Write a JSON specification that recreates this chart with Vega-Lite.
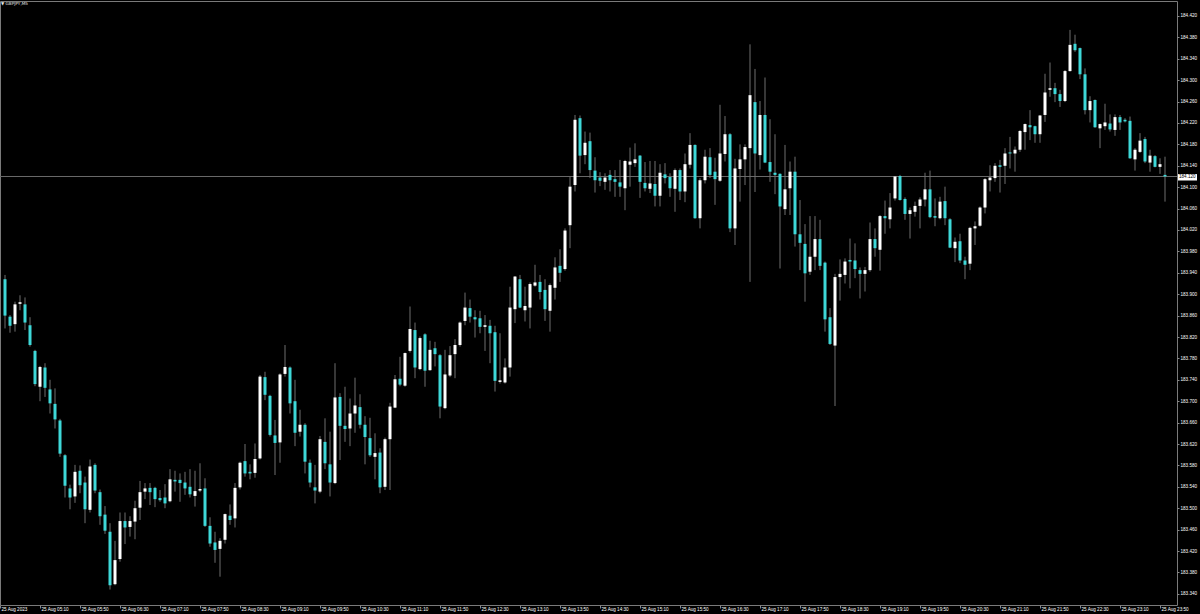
{
  "$schema": "https://vega.github.io/schema/vega-lite/v6.json",
  "width": 1177,
  "height": 604,
  "autosize": {"type": "none"},
  "padding": {"left": 0, "top": 1, "right": 23, "bottom": 9},
  "background": "#000000",
  "config": {
    "view": {"stroke": "#7a7a7a", "strokeWidth": 1},
    "font": "Liberation Sans"
  },
  "data": {
    "format": {"parse": {"t": "date:'%Y-%m-%d %H:%M'"}},
    "values": [
{"t":"2023-08-25 04:35","o":183.928,"h":183.936,"l":183.836,"c":183.860},
{"t":"2023-08-25 04:40","o":183.858,"h":183.861,"l":183.828,"c":183.841},
{"t":"2023-08-25 04:45","o":183.844,"h":183.886,"l":183.830,"c":183.881},
{"t":"2023-08-25 04:50","o":183.882,"h":183.898,"l":183.870,"c":183.885},
{"t":"2023-08-25 04:55","o":183.881,"h":183.894,"l":183.833,"c":183.847},
{"t":"2023-08-25 05:00","o":183.842,"h":183.857,"l":183.802,"c":183.805},
{"t":"2023-08-25 05:05","o":183.794,"h":183.796,"l":183.728,"c":183.732},
{"t":"2023-08-25 05:10","o":183.727,"h":183.766,"l":183.700,"c":183.764},
{"t":"2023-08-25 05:15","o":183.763,"h":183.771,"l":183.708,"c":183.725},
{"t":"2023-08-25 05:20","o":183.722,"h":183.740,"l":183.677,"c":183.696},
{"t":"2023-08-25 05:25","o":183.695,"h":183.724,"l":183.649,"c":183.666},
{"t":"2023-08-25 05:30","o":183.664,"h":183.667,"l":183.596,"c":183.602},
{"t":"2023-08-25 05:35","o":183.599,"h":183.601,"l":183.520,"c":183.542},
{"t":"2023-08-25 05:40","o":183.537,"h":183.544,"l":183.498,"c":183.520},
{"t":"2023-08-25 05:45","o":183.522,"h":183.581,"l":183.510,"c":183.568},
{"t":"2023-08-25 05:50","o":183.570,"h":183.580,"l":183.528,"c":183.543},
{"t":"2023-08-25 05:55","o":183.548,"h":183.559,"l":183.472,"c":183.498},
{"t":"2023-08-25 06:00","o":183.497,"h":183.591,"l":183.492,"c":183.578},
{"t":"2023-08-25 06:05","o":183.581,"h":183.584,"l":183.528,"c":183.533},
{"t":"2023-08-25 06:10","o":183.530,"h":183.535,"l":183.469,"c":183.485},
{"t":"2023-08-25 06:15","o":183.488,"h":183.504,"l":183.452,"c":183.458},
{"t":"2023-08-25 06:20","o":183.456,"h":183.472,"l":183.348,"c":183.356},
{"t":"2023-08-25 06:25","o":183.358,"h":183.439,"l":183.356,"c":183.403},
{"t":"2023-08-25 06:30","o":183.405,"h":183.492,"l":183.400,"c":183.476},
{"t":"2023-08-25 06:35","o":183.476,"h":183.492,"l":183.433,"c":183.464},
{"t":"2023-08-25 06:40","o":183.465,"h":183.485,"l":183.447,"c":183.476},
{"t":"2023-08-25 06:45","o":183.475,"h":183.514,"l":183.442,"c":183.500},
{"t":"2023-08-25 06:50","o":183.501,"h":183.551,"l":183.478,"c":183.530},
{"t":"2023-08-25 06:55","o":183.531,"h":183.547,"l":183.517,"c":183.537},
{"t":"2023-08-25 07:00","o":183.538,"h":183.547,"l":183.506,"c":183.530},
{"t":"2023-08-25 07:05","o":183.538,"h":183.540,"l":183.502,"c":183.517},
{"t":"2023-08-25 07:10","o":183.519,"h":183.534,"l":183.512,"c":183.515},
{"t":"2023-08-25 07:15","o":183.520,"h":183.545,"l":183.500,"c":183.509},
{"t":"2023-08-25 07:20","o":183.513,"h":183.573,"l":183.511,"c":183.554},
{"t":"2023-08-25 07:25","o":183.553,"h":183.570,"l":183.531,"c":183.550},
{"t":"2023-08-25 07:30","o":183.553,"h":183.565,"l":183.512,"c":183.547},
{"t":"2023-08-25 07:35","o":183.548,"h":183.568,"l":183.525,"c":183.537},
{"t":"2023-08-25 07:40","o":183.540,"h":183.573,"l":183.520,"c":183.526},
{"t":"2023-08-25 07:45","o":183.523,"h":183.570,"l":183.503,"c":183.532},
{"t":"2023-08-25 07:50","o":183.533,"h":183.584,"l":183.530,"c":183.536},
{"t":"2023-08-25 07:55","o":183.537,"h":183.556,"l":183.465,"c":183.467},
{"t":"2023-08-25 08:00","o":183.467,"h":183.483,"l":183.428,"c":183.434},
{"t":"2023-08-25 08:05","o":183.436,"h":183.456,"l":183.398,"c":183.422},
{"t":"2023-08-25 08:10","o":183.424,"h":183.444,"l":183.372,"c":183.439},
{"t":"2023-08-25 08:15","o":183.441,"h":183.490,"l":183.434,"c":183.489},
{"t":"2023-08-25 08:20","o":183.486,"h":183.507,"l":183.469,"c":183.478},
{"t":"2023-08-25 08:25","o":183.481,"h":183.547,"l":183.464,"c":183.538},
{"t":"2023-08-25 08:30","o":183.539,"h":183.587,"l":183.535,"c":183.585},
{"t":"2023-08-25 08:35","o":183.588,"h":183.620,"l":183.559,"c":183.565},
{"t":"2023-08-25 08:40","o":183.568,"h":183.582,"l":183.554,"c":183.565},
{"t":"2023-08-25 08:45","o":183.566,"h":183.621,"l":183.557,"c":183.592},
{"t":"2023-08-25 08:50","o":183.593,"h":183.749,"l":183.591,"c":183.746},
{"t":"2023-08-25 08:55","o":183.745,"h":183.755,"l":183.702,"c":183.712},
{"t":"2023-08-25 09:00","o":183.710,"h":183.712,"l":183.634,"c":183.637},
{"t":"2023-08-25 09:05","o":183.636,"h":183.665,"l":183.562,"c":183.622},
{"t":"2023-08-25 09:10","o":183.623,"h":183.752,"l":183.585,"c":183.750},
{"t":"2023-08-25 09:15","o":183.751,"h":183.805,"l":183.746,"c":183.764},
{"t":"2023-08-25 09:20","o":183.763,"h":183.765,"l":183.677,"c":183.696},
{"t":"2023-08-25 09:25","o":183.700,"h":183.740,"l":183.616,"c":183.641},
{"t":"2023-08-25 09:30","o":183.643,"h":183.684,"l":183.634,"c":183.656},
{"t":"2023-08-25 09:35","o":183.656,"h":183.659,"l":183.565,"c":183.587},
{"t":"2023-08-25 09:40","o":183.585,"h":183.591,"l":183.539,"c":183.548},
{"t":"2023-08-25 09:45","o":183.539,"h":183.581,"l":183.509,"c":183.533},
{"t":"2023-08-25 09:50","o":183.531,"h":183.635,"l":183.528,"c":183.629},
{"t":"2023-08-25 09:55","o":183.624,"h":183.668,"l":183.573,"c":183.584},
{"t":"2023-08-25 10:00","o":183.582,"h":183.643,"l":183.522,"c":183.548},
{"t":"2023-08-25 10:05","o":183.547,"h":183.771,"l":183.545,"c":183.707},
{"t":"2023-08-25 10:10","o":183.708,"h":183.715,"l":183.590,"c":183.654},
{"t":"2023-08-25 10:15","o":183.654,"h":183.727,"l":183.624,"c":183.648},
{"t":"2023-08-25 10:20","o":183.649,"h":183.705,"l":183.616,"c":183.677},
{"t":"2023-08-25 10:25","o":183.677,"h":183.744,"l":183.641,"c":183.692},
{"t":"2023-08-25 10:30","o":183.689,"h":183.713,"l":183.649,"c":183.656},
{"t":"2023-08-25 10:35","o":183.656,"h":183.672,"l":183.582,"c":183.633},
{"t":"2023-08-25 10:40","o":183.631,"h":183.669,"l":183.596,"c":183.599},
{"t":"2023-08-25 10:45","o":183.596,"h":183.640,"l":183.554,"c":183.603},
{"t":"2023-08-25 10:50","o":183.604,"h":183.612,"l":183.528,"c":183.539},
{"t":"2023-08-25 10:55","o":183.540,"h":183.632,"l":183.534,"c":183.629},
{"t":"2023-08-25 11:00","o":183.629,"h":183.697,"l":183.534,"c":183.690},
{"t":"2023-08-25 11:05","o":183.688,"h":183.749,"l":183.687,"c":183.741},
{"t":"2023-08-25 11:10","o":183.742,"h":183.783,"l":183.728,"c":183.731},
{"t":"2023-08-25 11:15","o":183.729,"h":183.791,"l":183.727,"c":183.790},
{"t":"2023-08-25 11:20","o":183.794,"h":183.877,"l":183.791,"c":183.835},
{"t":"2023-08-25 11:25","o":183.833,"h":183.847,"l":183.743,"c":183.763},
{"t":"2023-08-25 11:30","o":183.760,"h":183.821,"l":183.758,"c":183.818},
{"t":"2023-08-25 11:35","o":183.825,"h":183.827,"l":183.727,"c":183.757},
{"t":"2023-08-25 11:40","o":183.758,"h":183.813,"l":183.757,"c":183.796},
{"t":"2023-08-25 11:45","o":183.799,"h":183.811,"l":183.765,"c":183.788},
{"t":"2023-08-25 11:50","o":183.786,"h":183.788,"l":183.668,"c":183.690},
{"t":"2023-08-25 11:55","o":183.687,"h":183.796,"l":183.685,"c":183.750},
{"t":"2023-08-25 12:00","o":183.748,"h":183.803,"l":183.745,"c":183.786},
{"t":"2023-08-25 12:05","o":183.788,"h":183.816,"l":183.743,"c":183.805},
{"t":"2023-08-25 12:10","o":183.805,"h":183.849,"l":183.802,"c":183.847},
{"t":"2023-08-25 12:15","o":183.850,"h":183.903,"l":183.842,"c":183.875},
{"t":"2023-08-25 12:20","o":183.874,"h":183.890,"l":183.847,"c":183.858},
{"t":"2023-08-25 12:25","o":183.857,"h":183.870,"l":183.819,"c":183.853},
{"t":"2023-08-25 12:30","o":183.855,"h":183.869,"l":183.827,"c":183.839},
{"t":"2023-08-25 12:35","o":183.839,"h":183.861,"l":183.794,"c":183.842},
{"t":"2023-08-25 12:40","o":183.841,"h":183.852,"l":183.771,"c":183.827},
{"t":"2023-08-25 12:45","o":183.829,"h":183.841,"l":183.718,"c":183.738},
{"t":"2023-08-25 12:50","o":183.736,"h":183.827,"l":183.733,"c":183.739},
{"t":"2023-08-25 12:55","o":183.735,"h":183.780,"l":183.733,"c":183.763},
{"t":"2023-08-25 13:00","o":183.763,"h":183.914,"l":183.746,"c":183.875},
{"t":"2023-08-25 13:05","o":183.872,"h":183.934,"l":183.846,"c":183.933},
{"t":"2023-08-25 13:10","o":183.928,"h":183.936,"l":183.874,"c":183.875},
{"t":"2023-08-25 13:15","o":183.870,"h":183.914,"l":183.849,"c":183.878},
{"t":"2023-08-25 13:20","o":183.875,"h":183.922,"l":183.836,"c":183.919},
{"t":"2023-08-25 13:25","o":183.916,"h":183.955,"l":183.914,"c":183.922},
{"t":"2023-08-25 13:30","o":183.923,"h":183.936,"l":183.890,"c":183.904},
{"t":"2023-08-25 13:35","o":183.908,"h":183.928,"l":183.850,"c":183.872},
{"t":"2023-08-25 13:40","o":183.869,"h":183.920,"l":183.830,"c":183.917},
{"t":"2023-08-25 13:45","o":183.912,"h":183.969,"l":183.890,"c":183.950},
{"t":"2023-08-25 13:50","o":183.953,"h":183.984,"l":183.923,"c":183.940},
{"t":"2023-08-25 13:55","o":183.947,"h":184.023,"l":183.944,"c":184.019},
{"t":"2023-08-25 14:00","o":184.029,"h":184.119,"l":183.986,"c":184.101},
{"t":"2023-08-25 14:05","o":184.104,"h":184.235,"l":184.092,"c":184.226},
{"t":"2023-08-25 14:10","o":184.229,"h":184.234,"l":184.126,"c":184.159},
{"t":"2023-08-25 14:15","o":184.160,"h":184.204,"l":184.143,"c":184.183},
{"t":"2023-08-25 14:20","o":184.186,"h":184.202,"l":184.117,"c":184.132},
{"t":"2023-08-25 14:25","o":184.131,"h":184.156,"l":184.090,"c":184.113},
{"t":"2023-08-25 14:30","o":184.118,"h":184.128,"l":184.102,"c":184.112},
{"t":"2023-08-25 14:35","o":184.110,"h":184.126,"l":184.095,"c":184.118},
{"t":"2023-08-25 14:40","o":184.123,"h":184.132,"l":184.092,"c":184.113},
{"t":"2023-08-25 14:45","o":184.115,"h":184.132,"l":184.082,"c":184.110},
{"t":"2023-08-25 14:50","o":184.109,"h":184.151,"l":184.082,"c":184.101},
{"t":"2023-08-25 14:55","o":184.098,"h":184.151,"l":184.057,"c":184.149},
{"t":"2023-08-25 15:00","o":184.142,"h":184.174,"l":184.101,"c":184.148},
{"t":"2023-08-25 15:05","o":184.145,"h":184.182,"l":184.138,"c":184.152},
{"t":"2023-08-25 15:10","o":184.159,"h":184.160,"l":184.080,"c":184.110},
{"t":"2023-08-25 15:15","o":184.108,"h":184.147,"l":184.092,"c":184.098},
{"t":"2023-08-25 15:20","o":184.097,"h":184.149,"l":184.089,"c":184.107},
{"t":"2023-08-25 15:25","o":184.106,"h":184.149,"l":184.064,"c":184.084},
{"t":"2023-08-25 15:30","o":184.084,"h":184.143,"l":184.064,"c":184.127},
{"t":"2023-08-25 15:35","o":184.124,"h":184.145,"l":184.107,"c":184.117},
{"t":"2023-08-25 15:40","o":184.119,"h":184.126,"l":184.082,"c":184.098},
{"t":"2023-08-25 15:45","o":184.097,"h":184.135,"l":184.054,"c":184.132},
{"t":"2023-08-25 15:50","o":184.132,"h":184.135,"l":184.076,"c":184.092},
{"t":"2023-08-25 15:55","o":184.092,"h":184.163,"l":184.072,"c":184.143},
{"t":"2023-08-25 16:00","o":184.142,"h":184.201,"l":184.135,"c":184.179},
{"t":"2023-08-25 16:05","o":184.179,"h":184.180,"l":184.041,"c":184.042},
{"t":"2023-08-25 16:10","o":184.042,"h":184.117,"l":184.023,"c":184.113},
{"t":"2023-08-25 16:15","o":184.113,"h":184.170,"l":184.107,"c":184.157},
{"t":"2023-08-25 16:20","o":184.156,"h":184.173,"l":184.117,"c":184.123},
{"t":"2023-08-25 16:25","o":184.129,"h":184.155,"l":184.067,"c":184.115},
{"t":"2023-08-25 16:30","o":184.112,"h":184.254,"l":184.110,"c":184.163},
{"t":"2023-08-25 16:35","o":184.162,"h":184.233,"l":184.148,"c":184.199},
{"t":"2023-08-25 16:40","o":184.199,"h":184.201,"l":184.016,"c":184.023},
{"t":"2023-08-25 16:45","o":184.023,"h":184.153,"l":183.992,"c":184.135},
{"t":"2023-08-25 16:50","o":184.134,"h":184.180,"l":184.073,"c":184.152},
{"t":"2023-08-25 16:55","o":184.152,"h":184.180,"l":184.104,"c":184.175},
{"t":"2023-08-25 17:00","o":184.173,"h":184.367,"l":183.923,"c":184.272},
{"t":"2023-08-25 17:05","o":184.259,"h":184.321,"l":184.091,"c":184.163},
{"t":"2023-08-25 17:10","o":184.160,"h":184.261,"l":184.133,"c":184.235},
{"t":"2023-08-25 17:15","o":184.235,"h":184.305,"l":184.145,"c":184.146},
{"t":"2023-08-25 17:20","o":184.147,"h":184.227,"l":184.110,"c":184.129},
{"t":"2023-08-25 17:25","o":184.127,"h":184.199,"l":184.087,"c":184.123},
{"t":"2023-08-25 17:30","o":184.125,"h":184.126,"l":183.948,"c":184.064},
{"t":"2023-08-25 17:35","o":184.059,"h":184.179,"l":184.048,"c":184.096},
{"t":"2023-08-25 17:40","o":184.098,"h":184.148,"l":184.048,"c":184.129},
{"t":"2023-08-25 17:45","o":184.129,"h":184.157,"l":183.989,"c":184.012},
{"t":"2023-08-25 17:50","o":184.012,"h":184.076,"l":183.945,"c":183.996},
{"t":"2023-08-25 17:55","o":183.994,"h":184.031,"l":183.886,"c":183.939},
{"t":"2023-08-25 18:00","o":183.942,"h":184.046,"l":183.936,"c":183.970},
{"t":"2023-08-25 18:05","o":183.970,"h":184.046,"l":183.945,"c":184.003},
{"t":"2023-08-25 18:10","o":184.003,"h":184.039,"l":183.945,"c":183.953},
{"t":"2023-08-25 18:15","o":183.959,"h":183.961,"l":183.830,"c":183.853},
{"t":"2023-08-25 18:20","o":183.857,"h":183.874,"l":183.805,"c":183.807},
{"t":"2023-08-25 18:25","o":183.804,"h":183.938,"l":183.691,"c":183.932},
{"t":"2023-08-25 18:30","o":183.932,"h":183.965,"l":183.888,"c":183.938},
{"t":"2023-08-25 18:35","o":183.936,"h":183.967,"l":183.920,"c":183.961},
{"t":"2023-08-25 18:40","o":183.964,"h":184.004,"l":183.911,"c":183.961},
{"t":"2023-08-25 18:45","o":183.963,"h":183.995,"l":183.930,"c":183.947},
{"t":"2023-08-25 18:50","o":183.945,"h":183.950,"l":183.892,"c":183.938},
{"t":"2023-08-25 18:55","o":183.938,"h":183.951,"l":183.905,"c":183.945},
{"t":"2023-08-25 19:00","o":183.945,"h":184.034,"l":183.942,"c":184.003},
{"t":"2023-08-25 19:05","o":184.003,"h":184.023,"l":183.970,"c":183.986},
{"t":"2023-08-25 19:10","o":183.983,"h":184.048,"l":183.944,"c":184.046},
{"t":"2023-08-25 19:15","o":184.046,"h":184.075,"l":184.013,"c":184.042},
{"t":"2023-08-25 19:20","o":184.040,"h":184.089,"l":184.023,"c":184.062},
{"t":"2023-08-25 19:25","o":184.079,"h":184.121,"l":184.075,"c":184.120},
{"t":"2023-08-25 19:30","o":184.121,"h":184.123,"l":184.075,"c":184.076},
{"t":"2023-08-25 19:35","o":184.078,"h":184.081,"l":184.039,"c":184.050},
{"t":"2023-08-25 19:40","o":184.050,"h":184.062,"l":184.004,"c":184.057},
{"t":"2023-08-25 19:45","o":184.054,"h":184.073,"l":184.045,"c":184.065},
{"t":"2023-08-25 19:50","o":184.065,"h":184.081,"l":184.023,"c":184.077},
{"t":"2023-08-25 19:55","o":184.077,"h":184.127,"l":184.064,"c":184.096},
{"t":"2023-08-25 20:00","o":184.096,"h":184.131,"l":184.042,"c":184.044},
{"t":"2023-08-25 20:05","o":184.046,"h":184.079,"l":184.027,"c":184.043},
{"t":"2023-08-25 20:10","o":184.042,"h":184.082,"l":184.040,"c":184.073},
{"t":"2023-08-25 20:15","o":184.074,"h":184.101,"l":184.029,"c":184.042},
{"t":"2023-08-25 20:20","o":184.040,"h":184.042,"l":183.986,"c":183.987},
{"t":"2023-08-25 20:25","o":183.986,"h":184.006,"l":183.960,"c":183.998},
{"t":"2023-08-25 20:30","o":183.999,"h":184.013,"l":183.958,"c":183.963},
{"t":"2023-08-25 20:35","o":183.963,"h":183.970,"l":183.928,"c":183.955},
{"t":"2023-08-25 20:40","o":183.957,"h":184.026,"l":183.945,"c":184.024},
{"t":"2023-08-25 20:45","o":184.023,"h":184.036,"l":183.992,"c":184.027},
{"t":"2023-08-25 20:50","o":184.028,"h":184.064,"l":184.026,"c":184.062},
{"t":"2023-08-25 20:55","o":184.062,"h":184.117,"l":184.051,"c":184.115},
{"t":"2023-08-25 21:00","o":184.113,"h":184.141,"l":184.092,"c":184.118},
{"t":"2023-08-25 21:05","o":184.117,"h":184.145,"l":184.110,"c":184.140},
{"t":"2023-08-25 21:10","o":184.141,"h":184.151,"l":184.090,"c":184.138},
{"t":"2023-08-25 21:15","o":184.140,"h":184.173,"l":184.106,"c":184.163},
{"t":"2023-08-25 21:20","o":184.165,"h":184.194,"l":184.135,"c":184.163},
{"t":"2023-08-25 21:25","o":184.163,"h":184.176,"l":184.129,"c":184.170},
{"t":"2023-08-25 21:30","o":184.170,"h":184.207,"l":184.166,"c":184.205},
{"t":"2023-08-25 21:35","o":184.203,"h":184.219,"l":184.170,"c":184.218},
{"t":"2023-08-25 21:40","o":184.216,"h":184.244,"l":184.188,"c":184.212},
{"t":"2023-08-25 21:45","o":184.214,"h":184.215,"l":184.183,"c":184.199},
{"t":"2023-08-25 21:50","o":184.199,"h":184.235,"l":184.183,"c":184.234},
{"t":"2023-08-25 21:55","o":184.235,"h":184.312,"l":184.222,"c":184.277},
{"t":"2023-08-25 22:00","o":184.282,"h":184.333,"l":184.269,"c":184.285},
{"t":"2023-08-25 22:05","o":184.285,"h":184.295,"l":184.259,"c":184.274},
{"t":"2023-08-25 22:10","o":184.274,"h":184.282,"l":184.250,"c":184.261},
{"t":"2023-08-25 22:15","o":184.261,"h":184.319,"l":184.259,"c":184.317},
{"t":"2023-08-25 22:20","o":184.317,"h":184.394,"l":184.316,"c":184.366},
{"t":"2023-08-25 22:25","o":184.368,"h":184.385,"l":184.353,"c":184.356},
{"t":"2023-08-25 22:30","o":184.360,"h":184.361,"l":184.302,"c":184.311},
{"t":"2023-08-25 22:35","o":184.311,"h":184.322,"l":184.236,"c":184.244},
{"t":"2023-08-25 22:40","o":184.244,"h":184.270,"l":184.221,"c":184.261},
{"t":"2023-08-25 22:45","o":184.263,"h":184.264,"l":184.211,"c":184.212},
{"t":"2023-08-25 22:50","o":184.210,"h":184.219,"l":184.173,"c":184.218},
{"t":"2023-08-25 22:55","o":184.214,"h":184.256,"l":184.207,"c":184.221},
{"t":"2023-08-25 23:00","o":184.219,"h":184.236,"l":184.204,"c":184.208},
{"t":"2023-08-25 23:05","o":184.207,"h":184.236,"l":184.196,"c":184.231},
{"t":"2023-08-25 23:10","o":184.231,"h":184.235,"l":184.207,"c":184.221},
{"t":"2023-08-25 23:15","o":184.226,"h":184.229,"l":184.221,"c":184.223},
{"t":"2023-08-25 23:20","o":184.224,"h":184.232,"l":184.153,"c":184.154},
{"t":"2023-08-25 23:25","o":184.152,"h":184.173,"l":184.131,"c":184.170},
{"t":"2023-08-25 23:30","o":184.166,"h":184.201,"l":184.164,"c":184.187},
{"t":"2023-08-25 23:35","o":184.190,"h":184.194,"l":184.145,"c":184.148},
{"t":"2023-08-25 23:40","o":184.146,"h":184.170,"l":184.129,"c":184.159},
{"t":"2023-08-25 23:45","o":184.158,"h":184.160,"l":184.137,"c":184.138},
{"t":"2023-08-25 23:50","o":184.138,"h":184.154,"l":184.125,"c":184.143},
{"t":"2023-08-25 23:55","o":184.123,"h":184.157,"l":184.073,"c":184.120}
    ]
  },
  "encoding": {
    "x": {
      "type": "temporal",
      "scale": {
        "domain": [
          {"year": 2023, "month": "aug", "date": 25, "hours": 4, "minutes": 30},
          {"year": 2023, "month": "aug", "date": 26, "hours": 0, "minutes": 7}
        ],
        "nice": false
      },
      "axis": {
        "orient": "bottom",
        "title": null,
        "grid": false,
        "domain": false,
        "values": [
          {"year": 2023, "month": "aug", "date": 25, "hours": 4, "minutes": 30},
          {"year": 2023, "month": "aug", "date": 25, "hours": 5, "minutes": 10},
          {"year": 2023, "month": "aug", "date": 25, "hours": 5, "minutes": 50},
          {"year": 2023, "month": "aug", "date": 25, "hours": 6, "minutes": 30},
          {"year": 2023, "month": "aug", "date": 25, "hours": 7, "minutes": 10},
          {"year": 2023, "month": "aug", "date": 25, "hours": 7, "minutes": 50},
          {"year": 2023, "month": "aug", "date": 25, "hours": 8, "minutes": 30},
          {"year": 2023, "month": "aug", "date": 25, "hours": 9, "minutes": 10},
          {"year": 2023, "month": "aug", "date": 25, "hours": 9, "minutes": 50},
          {"year": 2023, "month": "aug", "date": 25, "hours": 10, "minutes": 30},
          {"year": 2023, "month": "aug", "date": 25, "hours": 11, "minutes": 10},
          {"year": 2023, "month": "aug", "date": 25, "hours": 11, "minutes": 50},
          {"year": 2023, "month": "aug", "date": 25, "hours": 12, "minutes": 30},
          {"year": 2023, "month": "aug", "date": 25, "hours": 13, "minutes": 10},
          {"year": 2023, "month": "aug", "date": 25, "hours": 13, "minutes": 50},
          {"year": 2023, "month": "aug", "date": 25, "hours": 14, "minutes": 30},
          {"year": 2023, "month": "aug", "date": 25, "hours": 15, "minutes": 10},
          {"year": 2023, "month": "aug", "date": 25, "hours": 15, "minutes": 50},
          {"year": 2023, "month": "aug", "date": 25, "hours": 16, "minutes": 30},
          {"year": 2023, "month": "aug", "date": 25, "hours": 17, "minutes": 10},
          {"year": 2023, "month": "aug", "date": 25, "hours": 17, "minutes": 50},
          {"year": 2023, "month": "aug", "date": 25, "hours": 18, "minutes": 30},
          {"year": 2023, "month": "aug", "date": 25, "hours": 19, "minutes": 10},
          {"year": 2023, "month": "aug", "date": 25, "hours": 19, "minutes": 50},
          {"year": 2023, "month": "aug", "date": 25, "hours": 20, "minutes": 30},
          {"year": 2023, "month": "aug", "date": 25, "hours": 21, "minutes": 10},
          {"year": 2023, "month": "aug", "date": 25, "hours": 21, "minutes": 50},
          {"year": 2023, "month": "aug", "date": 25, "hours": 22, "minutes": 30},
          {"year": 2023, "month": "aug", "date": 25, "hours": 23, "minutes": 10},
          {"year": 2023, "month": "aug", "date": 25, "hours": 23, "minutes": 50}
        ],
        "labelExpr": "hours(datum.value) == 4 ? '25 Aug 2023' : timeFormat(datum.value, '%d %b %H:%M')",
        "labelAlign": "left",
        "labelBaseline": "middle",
        "labelFont": "Liberation Sans",
        "labelFontSize": 4.6,
        "labelColor": "#ffffff",
        "labelPadding": 1.5,
        "labelOffset": 1,
        "labelOverlap": false,
        "labelFlush": false,
        "labelBound": false,
        "tickColor": "#8a8a8a",
        "tickSize": 3
      }
    },
    "y": {
      "type": "quantitative",
      "scale": {"domain": [183.3191, 184.448], "nice": false, "zero": false},
      "axis": {
        "orient": "right",
        "title": null,
        "grid": false,
        "domain": false,
        "values": [183.34, 183.38, 183.42, 183.46, 183.5, 183.54, 183.58, 183.62, 183.66, 183.7, 183.74, 183.78, 183.82, 183.86, 183.9, 183.94, 183.98, 184.02, 184.06, 184.1, 184.14, 184.18, 184.22, 184.26, 184.3, 184.34, 184.38, 184.42],
        "format": ".3f",
        "labelFont": "Liberation Sans",
        "labelFontSize": 4.6,
        "labelColor": "#ffffff",
        "labelPadding": 1,
        "labelOverlap": false,
        "labelFlush": false,
        "labelBound": false,
        "tickColor": "#8a8a8a",
        "tickSize": 2
      }
    }
  },
  "layer": [
    {
      "data": {"values": [{}]},
      "mark": {"type": "rule", "color": "#6a6a6a", "strokeWidth": 1},
      "encoding": {"x": null, "y": {"datum": 184.12}}
    },
    {
      "mark": {"type": "rule", "strokeWidth": 1, "color": "#6e6e6e"},
      "encoding": {
        "x": {"field": "t"},
        "y": {"field": "l"},
        "y2": {"field": "h"}
      }
    },
    {
      "mark": {"type": "rule", "strokeWidth": 3, "strokeCap": "butt"},
      "encoding": {
        "x": {"field": "t"},
        "y": {"field": "o"},
        "y2": {"field": "c"},
        "color": {"condition": {"test": "datum.c >= datum.o", "value": "#ffffff"}, "value": "#3ed8d8"}
      }
    },
    {
      "data": {"values": [{}]},
      "mark": {"type": "rect", "color": "#ffffff", "clip": false},
      "encoding": {
        "x": {"datum": {"year": 2023, "month": "aug", "date": 26, "hours": 0, "minutes": 8}},
        "x2": {"datum": {"year": 2023, "month": "aug", "date": 26, "hours": 0, "minutes": 27}},
        "y": {"datum": 184.1245},
        "y2": {"datum": 184.1125}
      }
    },
    {
      "data": {"values": [{"label": "184.120"}]},
      "mark": {"type": "text", "color": "#000000", "font": "Liberation Sans", "fontSize": 4.6, "align": "left", "baseline": "middle", "clip": false},
      "encoding": {
        "x": {"datum": {"year": 2023, "month": "aug", "date": 26, "hours": 0, "minutes": 9}},
        "y": {"datum": 184.1185},
        "text": {"field": "label"}
      }
    },
    {
      "data": {"values": [{"label": "▼ GBPJPY,M5"}]},
      "mark": {"type": "text", "color": "#e8e8e8", "font": "DejaVu Sans", "fontSize": 4.2, "align": "left", "baseline": "middle", "clip": false},
      "encoding": {
        "x": {"datum": {"year": 2023, "month": "aug", "date": 25, "hours": 4, "minutes": 31}},
        "y": {"datum": 184.4425},
        "text": {"field": "label"}
      }
    }
  ]
}
